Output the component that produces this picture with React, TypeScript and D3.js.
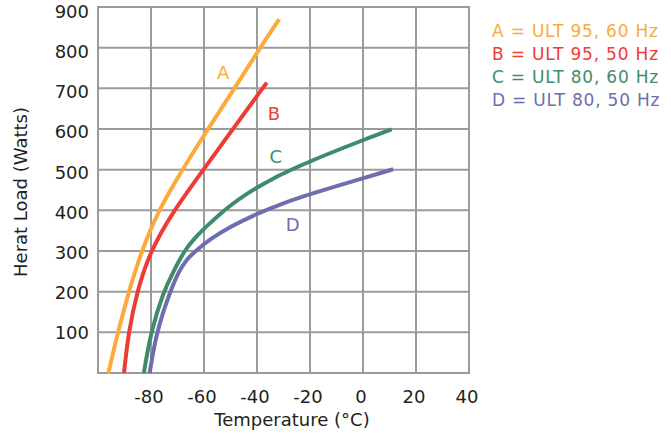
import React, { useRef, useEffect } from "react";
import * as d3 from "d3";

// curves: temperature (°C) vs heat load (W)
const tempA = [-96.1, -92.5, -88.4, -83.6, -77.2, -68.2, -58.5, -48.5, -38.8, -31.6];
const loadA = [0, 100, 200, 300, 400, 500, 600, 700, 800, 870];
const tempB = [-90.2, -88.5, -85.3, -80.3, -71.4, -60.2, -49.1, -37.9, -36.3];
const loadB = [0, 100, 200, 300, 400, 500, 600, 700, 714];
const tempC = [-82.7, -80.1, -75.3, -71.5, -67.5, -63.5, -59.5, -54.5, -49.5, -44.5, -39.5, -34, -28, -20, 0, 10.8];
const loadC = [0, 100, 200, 250, 300, 332, 358, 388, 415, 438, 458, 478, 497, 521, 573, 599];
const tempD = [-80.5, -78, -72.8, -69.5, -66.5, -63.5, -58, -50, -40, -30, -20, 0, 11.4];
const loadD = [0, 100, 200, 250, 280, 298, 328, 360, 392, 418, 440, 479, 501];

const seriesNames = ["A", "B", "C", "D"];
const legendLabels = ["A = ULT 95, 60 Hz", "B = ULT 95, 50 Hz", "C = ULT 80, 60 Hz", "D = ULT 80, 50 Hz"];
const colors = ["#fbab3b", "#ee3b34", "#3f8c6d", "#6e6daf"];

const xTicks = [-80, -60, -40, -20, 0, 20, 40];
const yTicks = [100, 200, 300, 400, 500, 600, 700, 800, 900];

const width = 671;
const height = 434;
const font = "'DejaVu Sans', sans-serif";
const textColor = "#231f20";

const App = () => {
  const svgRef = useRef(null);

  useEffect(() => {
    const svg = d3.select(svgRef.current);
    svg.selectAll("*").remove();

    const x = d3.scaleLinear().domain([-100, 40]).range([98, 469]);
    const y = d3.scaleLinear().domain([0, 900]).range([373, 7]);
    // tick labels sit a little off the grid lines in the original
    const yLabel = d3.scaleLinear().domain([100, 900]).range([339, 18]);

    // grid
    const grid = svg.append("g").attr("stroke", "#9b9b9d").attr("stroke-width", 2);
    grid
      .selectAll(".vline")
      .data(d3.range(-100, 41, 20))
      .join("line")
      .attr("x1", (d) => x(d))
      .attr("x2", (d) => x(d))
      .attr("y1", y(900) - 1)
      .attr("y2", y(0) + 1);
    grid
      .selectAll(".hline")
      .data(d3.range(0, 901, 100))
      .join("line")
      .attr("x1", x(-100) - 1)
      .attr("x2", x(40) + 1)
      .attr("y1", (d) => y(d))
      .attr("y2", (d) => y(d));

    // tick labels
    svg
      .append("g")
      .selectAll("text")
      .data(yTicks)
      .join("text")
      .attr("x", 89)
      .attr("y", (d) => yLabel(d))
      .attr("text-anchor", "end")
      .style("font-family", font)
      .style("font-size", "18px")
      .style("fill", textColor)
      .text((d) => d);

    svg
      .append("g")
      .selectAll("text")
      .data(xTicks)
      .join("text")
      .attr("x", (d) => x(d) - 2)
      .attr("y", 403)
      .attr("text-anchor", "middle")
      .style("font-family", font)
      .style("font-size", "18px")
      .style("fill", textColor)
      .text((d) => d);

    // axis titles
    svg
      .append("text")
      .attr("x", 292)
      .attr("y", 426)
      .attr("text-anchor", "middle")
      .style("font-family", font)
      .style("font-size", "18px")
      .style("fill", textColor)
      .text("Temperature (°C)");

    svg
      .append("text")
      .attr("transform", "translate(27,192) rotate(-90)")
      .attr("text-anchor", "middle")
      .style("font-family", font)
      .style("font-size", "18px")
      .style("fill", textColor)
      .text("Herat Load (Watts)");

    // curves, smoothed with a B-spline to iron out reading noise
    const series = [
      { temp: tempA, load: loadA },
      { temp: tempB, load: loadB },
      { temp: tempC, load: loadC },
      { temp: tempD, load: loadD },
    ];
    const line = d3
      .line()
      .x((d) => x(d[0]))
      .y((d) => y(d[1]))
      .curve(d3.curveBasis);

    series.forEach((s, i) => {
      const pts = s.temp.map((t, j) => [t, s.load[j]]);
      svg
        .append("path")
        .attr("d", line(pts))
        .attr("fill", "none")
        .attr("stroke", colors[i])
        .attr("stroke-width", 4);
    });

    // curve letters
    const letterPos = [
      [-52.8, 738],
      [-33.6, 639],
      [-32.9, 532],
      [-26.5, 364],
    ];
    svg
      .append("g")
      .selectAll("text")
      .data(seriesNames)
      .join("text")
      .attr("x", (d, i) => x(letterPos[i][0]))
      .attr("y", (d, i) => y(letterPos[i][1]))
      .attr("text-anchor", "middle")
      .attr("dy", "0.36em")
      .style("font-family", font)
      .style("font-size", "18px")
      .style("fill", (d, i) => colors[i])
      .text((d) => d);

    // legend
    svg
      .append("g")
      .selectAll("text")
      .data(legendLabels)
      .join("text")
      .attr("x", 492)
      .attr("y", (d, i) => 37 + i * 23)
      .style("font-family", font)
      .style("font-size", "17px")
      .style("letter-spacing", "0.8px")
      .style("fill", (d, i) => colors[i])
      .text((d) => d);
  }, []);

  return (
    <svg
      ref={svgRef}
      width={width}
      height={height}
      style={{ position: "absolute", left: 0, top: 0, background: "#fff" }}
    ></svg>
  );
};

export default App;
